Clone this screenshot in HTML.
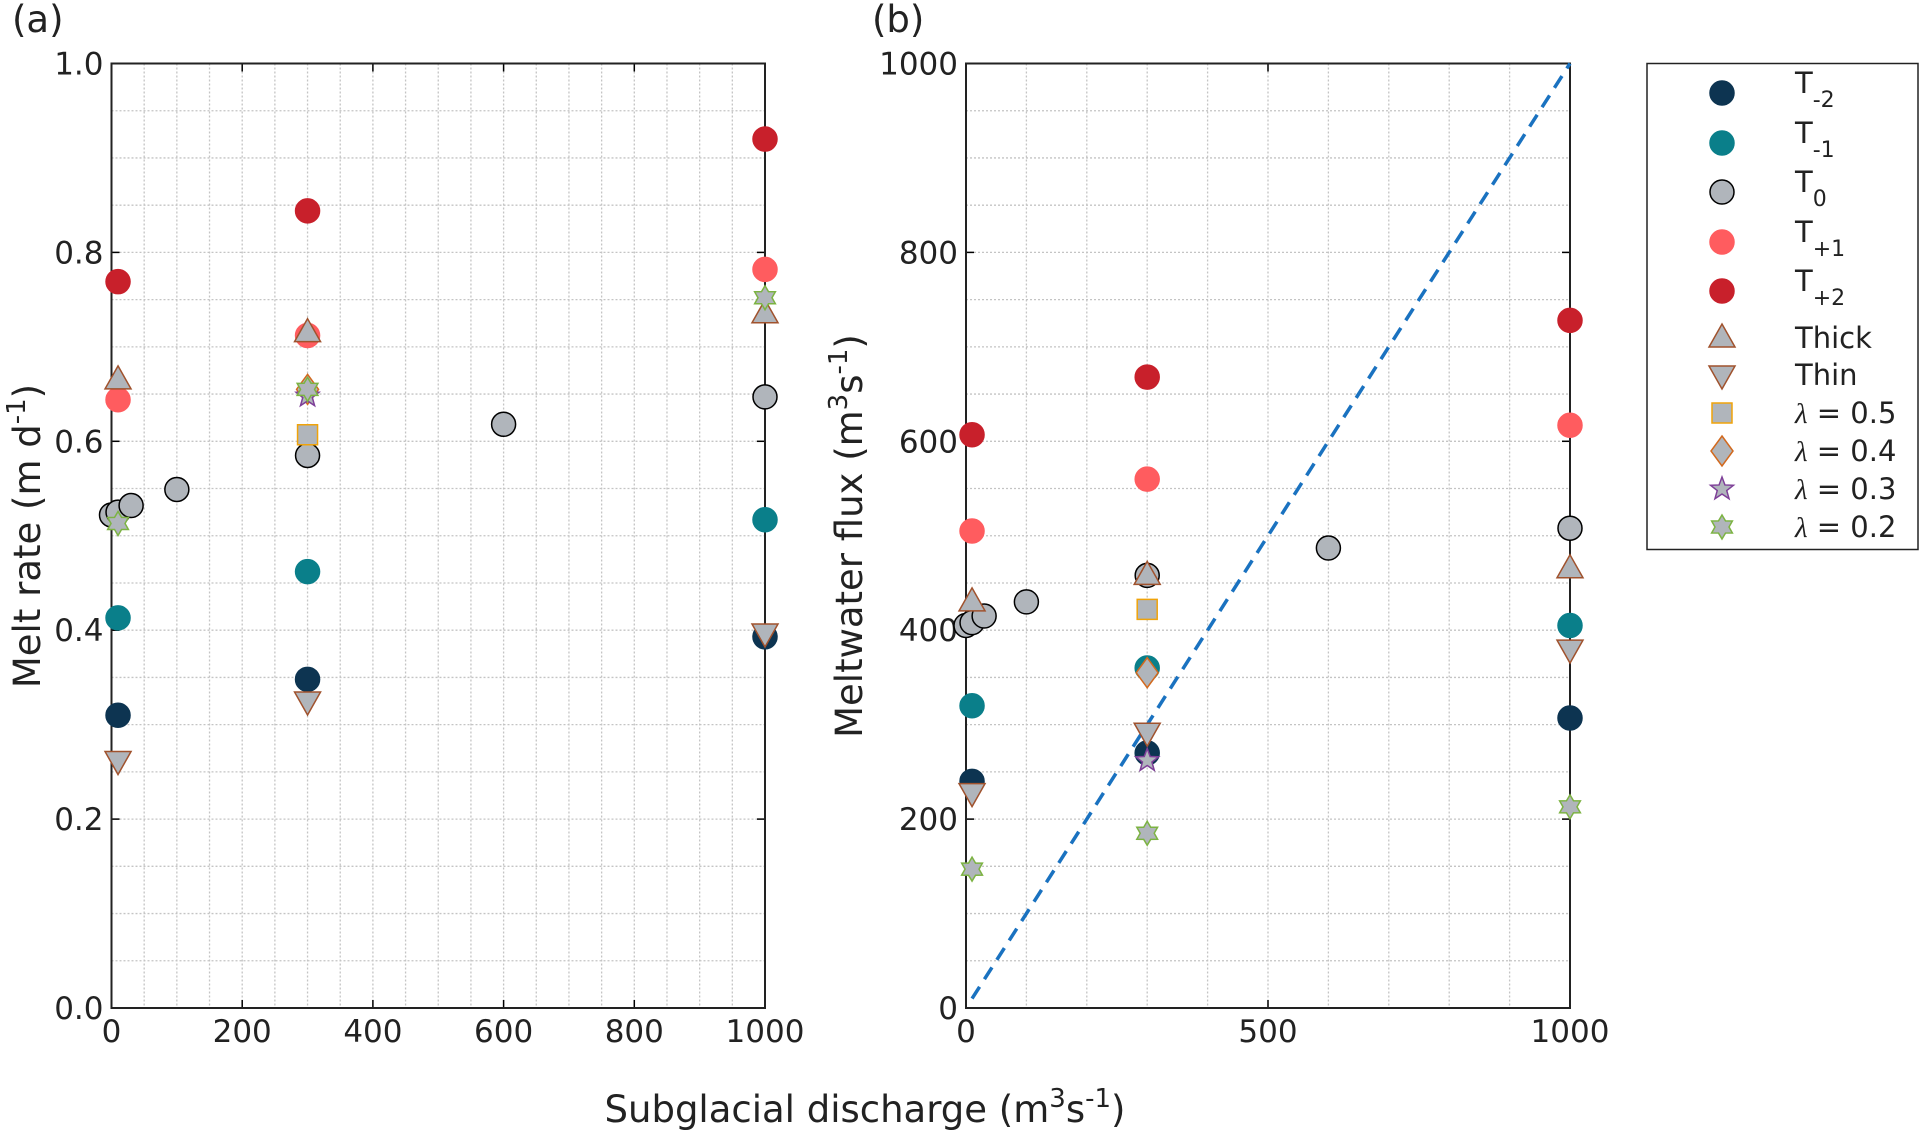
<!DOCTYPE html>
<html><head><meta charset="utf-8"><style>
html,body{margin:0;padding:0;background:#fff;}
svg{display:block;font-family:"DejaVu Sans","Liberation Sans",sans-serif;}
</style></head><body>
<svg id="chart" width="1920" height="1130" viewBox="0 0 1920 1130" xmlns="http://www.w3.org/2000/svg"></svg>
<script>
// ---- Data ----
const seriesNames = ["T-2","T-1","T0","T+1","T+2","Thick","Thin","lam05","lam04","lam03","lam02"];
const aT_2 = [[10,0.31],[300,0.348],[1000,0.393]];
const aT_1 = [[10,0.413],[300,0.462],[1000,0.517]];
const aT0 = [[0,0.522],[10,0.525],[30,0.532],[100,0.549],[300,0.585],[600,0.618],[1000,0.647]];
const aT1 = [[10,0.644],[300,0.712],[1000,0.782]];
const aT2 = [[10,0.769],[300,0.844],[1000,0.92]];
const aThick = [[10,0.665],[300,0.715],[1000,0.735]];
const aThin = [[10,0.262],[300,0.325],[1000,0.397]];
const aL05 = [[300,0.607]];
const aL04 = [[300,0.655]];
const aL03 = [[300,0.648]];
const aL02 = [[10,0.513],[300,0.655],[1000,0.752]];
const bT_2 = [[10,240],[300,270],[1000,307]];
const bT_1 = [[10,320],[300,360],[1000,405]];
const bT0 = [[0,405],[10,408],[30,415],[100,430],[300,458],[600,487],[1000,508]];
const bT1 = [[10,505],[300,560],[1000,617]];
const bT2 = [[10,607],[300,668],[1000,728]];
const bThick = [[10,430],[300,458],[1000,465]];
const bThin = [[10,228],[300,292],[1000,380]];
const bL05 = [[300,422]];
const bL04 = [[300,355]];
const bL03 = [[300,262]];
const bL02 = [[10,147],[300,185],[1000,213]];
const oneToOne = [[10,10],[1000,1000]];
const aXTicks = [0,200,400,600,800,1000];
const aYTicks = [0.0,0.2,0.4,0.6,0.8,1.0];
const bXTicks = [0,500,1000];
const bYTicks = [0,200,400,600,800,1000];

const svg = document.getElementById('chart');
const NS = "http://www.w3.org/2000/svg";
function el(tag, attrs, parent){ const e=document.createElementNS(NS,tag); for(const k in attrs) e.setAttribute(k,attrs[k]); (parent||svg).appendChild(e); return e; }

const styles = {
 "T-2":{shape:"circle",fill:"#0d3451",stroke:"#0d3451"},
 "T-1":{shape:"circle",fill:"#0a7f8a",stroke:"#0a7f8a"},
 "T0":{shape:"circle",fill:"#b0b5bb",stroke:"#000"},
 "T+1":{shape:"circle",fill:"#ff5c5f",stroke:"#ff5c5f"},
 "T+2":{shape:"circle",fill:"#c8202b",stroke:"#c8202b"},
 "Thick":{shape:"tri",fill:"#b0b5bb",stroke:"#a0522d"},
 "Thin":{shape:"vtri",fill:"#b0b5bb",stroke:"#a0522d"},
 "lam05":{shape:"square",fill:"#b0b5bb",stroke:"#f0a30a"},
 "lam04":{shape:"diamond",fill:"#b0b5bb",stroke:"#d2691e"},
 "lam03":{shape:"star",fill:"#b0b5bb",stroke:"#7e3f98"},
 "lam02":{shape:"hex",fill:"#b0b5bb",stroke:"#7cb342"}
};
function marker(g,name,cx,cy){
 const s=styles[name]; let m;
 const r=12;
 if(s.shape==="circle") m=el('circle',{cx,cy,r,fill:s.fill,stroke:s.stroke,'stroke-width':1.5},g);
 else {
  let pts=[];
  if(s.shape==="tri") pts=[[0,-14],[13,9],[-13,9]];
  else if(s.shape==="vtri") pts=[[0,14],[13,-9],[-13,-9]];
  else if(s.shape==="square") pts=[[-10,-10],[10,-10],[10,10],[-10,10]];
  else if(s.shape==="diamond") pts=[[0,-15],[11,0],[0,15],[-11,0]];
  else if(s.shape==="star"){for(let i=0;i<10;i++){const a=-Math.PI/2+i*Math.PI/5;const rr=i%2?5:12;pts.push([rr*Math.cos(a),rr*Math.sin(a)]);}}
  else if(s.shape==="hex"){for(let i=0;i<12;i++){const a=-Math.PI/2+i*Math.PI/6;const rr=i%2?7:12;pts.push([rr*Math.cos(a),rr*Math.sin(a)]);}}
  m=el('polygon',{points:pts.map(p=>(cx+p[0])+','+(cy+p[1])).join(' '),fill:s.fill,stroke:s.stroke,'stroke-width':1.5},g);
 }
 return m;
}

function panel(id,L,R,T,B,xmax,ymax,xTicks,yTicks,xMinor,yMinor,yFmt){
 const g=el('g',{});
 
 
 const sx=v=>L+(v/xmax)*(R-L), sy=v=>B-(v/ymax)*(B-T);
 const grid=el('g',{},g);
 
 
 for(let v=xMinor;v<xmax-1e-9;v+=xMinor) el('line',{x1:sx(v),x2:sx(v),y1:T,y2:B,stroke:'#c4c4c4','stroke-width':1.3,'stroke-dasharray':'2,2'},grid);
 for(let v=yMinor;v<ymax-1e-9;v+=yMinor) el('line',{x1:L,x2:R,y1:sy(v),y2:sy(v),stroke:'#c4c4c4','stroke-width':1.3,'stroke-dasharray':'2,2'},grid);
 xTicks.forEach(v=>{
  el('line',{x1:sx(v),x2:sx(v),y1:B,y2:B-8,stroke:'#000','stroke-width':1.5},g);
  el('line',{x1:sx(v),x2:sx(v),y1:T,y2:T+8,stroke:'#000','stroke-width':1.5},g);
  const t=el('text',{x:sx(v),y:B+34,'font-size':31,'text-anchor':'middle',fill:'#222'},g);
  t.textContent=v;
  
  
 });
 yTicks.forEach(v=>{
  el('line',{x1:L,x2:L+8,y1:sy(v),y2:sy(v),stroke:'#000','stroke-width':1.5},g);
  el('line',{x1:R,x2:R-8,y1:sy(v),y2:sy(v),stroke:'#000','stroke-width':1.5},g);
  const t=el('text',{x:L-8,y:sy(v)+11,'font-size':31,'text-anchor':'end',fill:'#222'},g);
  t.textContent=yFmt(v);
  
  
 });
 el('rect',{x:L,y:T,width:R-L,height:B-T,fill:'none',stroke:'#222','stroke-width':2},g);
 return {g,sx,sy};
}

const A=panel('panel-a',111.5,765,63.5,1008,1000,1.0,aXTicks,aYTicks,50,0.05,v=>v.toFixed(1));
const Bp=panel('panel-b',966,1570,63.5,1008,1000,1000,bXTicks,bYTicks,100,50,v=>String(v));

const ln=el('line',{x1:Bp.sx(oneToOne[0][0]),y1:Bp.sy(oneToOne[0][1]),x2:Bp.sx(oneToOne[1][0]),y2:Bp.sy(oneToOne[1][1]),stroke:'#1a72c0','stroke-width':3.5,'stroke-dasharray':'14,9'},Bp.g);



const aSeries=[aT_2,aT_1,aT0,aT1,aT2,aThick,aThin,aL05,aL04,aL03,aL02];
const bSeries=[bT_2,bT_1,bT0,bT1,bT2,bThick,bThin,bL05,bL04,bL03,bL02];
const drawOrder=[0,1,2,3,4,5,6,7,8,9,10];
function drawSeries(P,arr,prefix){
 drawOrder.forEach(i=>{
  const gg=el('g',{},P.g);
  
  
  arr[i].forEach(p=>{
   const m=marker(gg,seriesNames[i],P.sx(p[0]),P.sy(p[1]));
   
   
  });
 });
}
drawSeries(A,aSeries,'a');
drawSeries(Bp,bSeries,'b');

const lg=el('g',{});


el('rect',{x:1647,y:63.5,width:271,height:486,fill:'#fff',stroke:'#222','stroke-width':1.5},lg);
const legendRows=[93,143,192,242,291,338,375,413,451,489,527];
const legendLabels=[["T","-2"],["T","-1"],["T","0"],["T","+1"],["T","+2"],["Thick",""],["Thin",""],["λ = 0.5",""],["λ = 0.4",""],["λ = 0.3",""],["λ = 0.2",""]];
seriesNames.forEach((n,i)=>{
 const y=legendRows[i];
 const e=el('g',{},lg);
 
 
 marker(e,n,1722,y);
 const t=el('text',{x:1795,y:y+(i<5?0:10),'font-size':29,fill:'#222'},e);
 const lab=legendLabels[i];
 if(lab[1]){ t.innerHTML=lab[0]+'<tspan font-size="22" dy="14">'+lab[1]+'</tspan>'; }
 else if(lab[0].startsWith('λ')){ t.innerHTML='<tspan font-style="italic" font-family="Liberation Serif,serif">λ</tspan>'+lab[0].slice(1); }
 else t.textContent=lab[0];
});

function txt(s,attrs,name){const t=el('text',attrs);t.innerHTML=s;return t;}
txt('(a)',{x:12,y:32,'font-size':37,fill:'#222'},'panel-a-label');
txt('(b)',{x:872,y:32,'font-size':37,fill:'#222'},'panel-b-label');
txt('Melt rate (m d<tspan font-size="26" dy="-15">-1</tspan><tspan dy="15">)</tspan>',{x:0,y:0,'font-size':37,fill:'#222','text-anchor':'middle',transform:'translate(40,536) rotate(-90)'},'y-axis-title-a');
txt('Meltwater flux (m<tspan font-size="26" dy="-15">3</tspan><tspan dy="15">s</tspan><tspan font-size="26" dy="-15">-1</tspan><tspan dy="15">)</tspan>',{x:0,y:0,'font-size':37,fill:'#222','text-anchor':'middle',transform:'translate(862,536) rotate(-90)'},'y-axis-title-b');
txt('Subglacial discharge (m<tspan font-size="26" dy="-15">3</tspan><tspan dy="15">s</tspan><tspan font-size="26" dy="-15">-1</tspan><tspan dy="15">)</tspan>',{x:865,y:1122,'font-size':37,fill:'#222','text-anchor':'middle'},'x-axis-title');
</script>
</body></html>
